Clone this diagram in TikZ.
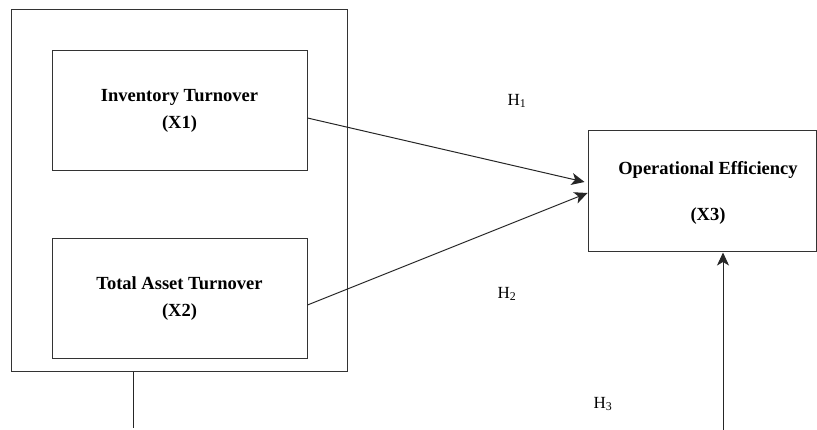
\documentclass[tikz,border=0pt]{standalone}
\usepackage{fontspec}
\setmainfont{Liberation Serif}
\usetikzlibrary{arrows.meta}
\begin{document}
\begin{tikzpicture}[x=1pt,y=-1pt,
  line width=1pt,
  box/.style={draw=black!80,rectangle,inner sep=0pt,align=center},
  vartext/.style={font=\bfseries\fontsize{18.5}{27}\selectfont},
  hyp/.style={font=\fontsize{17}{20}\selectfont,inner sep=0pt},
  link/.style={draw=black!85,-{Stealth[length=13pt,width=12pt,inset=3.5pt]}}]
  \useasboundingbox (0,0) rectangle (817,430);

  % grouping frame around the two independent variables
  \node[box,minimum width=336pt,minimum height=362pt] (grp) at (179,191) {};
  \node[box,vartext,minimum width=255pt,minimum height=120pt] (b1) at (179.5,111)
    {Inventory Turnover\\(X1)};
  \node[box,vartext,minimum width=255pt,minimum height=120pt] (b2) at (179.5,299)
    {Total Asset Turnover\\(X2)};

  % dependent variable (its caption sits a little right of the box centre)
  \node[box,minimum width=228pt,minimum height=121pt] (b3) at (702,191.5) {};
  \node[vartext,align=center,inner sep=0pt] (b3txt) at (708,193)
    {Operational Efficiency\\[19pt](X3)};

  % hypothesis labels
  \node[hyp] (h1) at (517,101) {H\textsubscript{1}};
  \node[hyp] (h2) at (507,294) {H\textsubscript{2}};
  \node[hyp] (h3) at (603,404) {H\textsubscript{3}};

  % connectors
  \coordinate (tail) at (133,428);
  \draw[draw=black!85] (grp.south -| tail) -- (tail);
  \coordinate (h3start) at (723,430);
  \draw[link] ([yshift=-7pt]b1.east) -- ([yshift=9.5pt,xshift=-3pt]b3.west);
  \draw[link] ([yshift=-6pt]b2.east) -- ([yshift=-1.5pt]b3.west);
  \draw[link] (h3start) -- (b3.south -| h3start);
\end{tikzpicture}
\end{document}
